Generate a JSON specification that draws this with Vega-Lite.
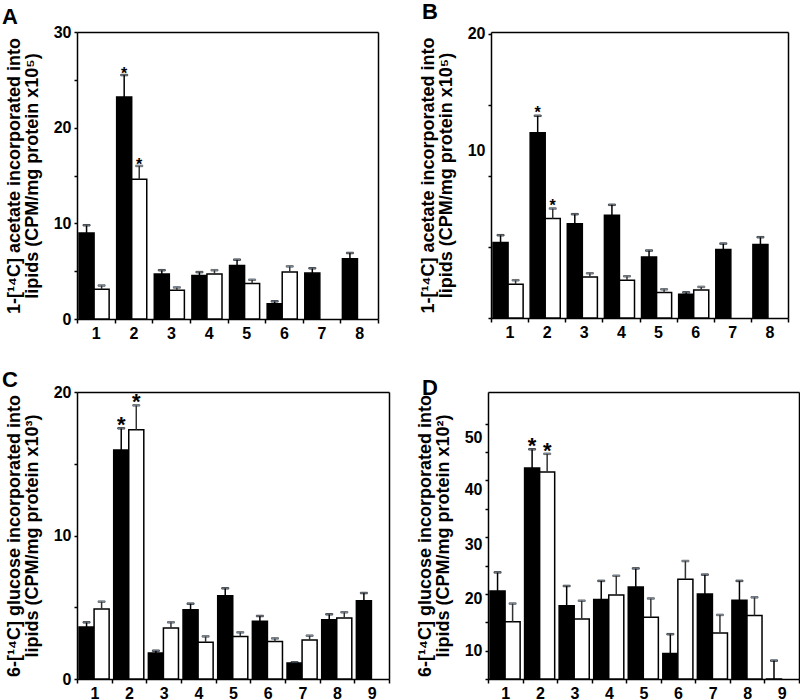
{
  "$schema": "https://vega.github.io/schema/vega-lite/v6.json",
  "padding": {"left": 2, "top": 0, "right": 0, "bottom": 0},
  "background": "white",
  "config": {
    "view": {"stroke": null},
    "font": "Liberation Sans",
    "axis": {
      "grid": false, "domainColor": "black", "domainWidth": 1.5, "tickColor": "black", "tickWidth": 1.5,
      "labelFont": "Liberation Sans", "labelFontWeight": "bold", "labelFontSize": 16, "labelColor": "black",
      "titleFont": "Liberation Sans", "titleFontWeight": "bold", "titleFontSize": 18, "titleColor": "black", "titleLineHeight": 18
    },
    "axisX": {"tickBand": "extent", "tickSize": 4, "labelAngle": 0, "labelPadding": 2, "title": null},
    "axisY": {"tickSize": 3, "labelPadding": 3, "titlePadding": 12, "labelOverlap": false},
    "title": {"anchor": "start", "frame": "group", "font": "Liberation Sans", "fontWeight": "bold", "fontSize": 22, "color": "black"}
  },
  "datasets": {
    "A": [
      {"group": "1", "series": "black", "value": 9.0, "err": 9.8, "star": ""},
      {"group": "1", "series": "white", "value": 3.1, "err": 3.5, "star": ""},
      {"group": "2", "series": "black", "value": 23.2, "err": 25.5, "star": "*"},
      {"group": "2", "series": "white", "value": 14.6, "err": 16.0, "star": "*"},
      {"group": "3", "series": "black", "value": 4.7, "err": 5.1, "star": ""},
      {"group": "3", "series": "white", "value": 3.0, "err": 3.3, "star": ""},
      {"group": "4", "series": "black", "value": 4.55, "err": 4.9, "star": ""},
      {"group": "4", "series": "white", "value": 4.7, "err": 5.1, "star": ""},
      {"group": "5", "series": "black", "value": 5.6, "err": 6.2, "star": ""},
      {"group": "5", "series": "white", "value": 3.7, "err": 4.1, "star": ""},
      {"group": "6", "series": "black", "value": 1.6, "err": 1.85, "star": ""},
      {"group": "6", "series": "white", "value": 4.9, "err": 5.5, "star": ""},
      {"group": "7", "series": "black", "value": 4.8, "err": 5.3, "star": ""},
      {"group": "8", "series": "black", "value": 6.3, "err": 6.9, "star": ""}
    ],
    "B": [
      {"group": "1", "series": "black", "value": 5.31, "err": 5.83, "star": ""},
      {"group": "1", "series": "white", "value": 2.37, "err": 2.66, "star": ""},
      {"group": "2", "series": "black", "value": 13.04, "err": 14.24, "star": "*"},
      {"group": "2", "series": "white", "value": 7.0, "err": 7.71, "star": "*"},
      {"group": "3", "series": "black", "value": 6.63, "err": 7.31, "star": ""},
      {"group": "3", "series": "white", "value": 2.89, "err": 3.15, "star": ""},
      {"group": "4", "series": "black", "value": 7.24, "err": 7.97, "star": ""},
      {"group": "4", "series": "white", "value": 2.66, "err": 2.94, "star": ""},
      {"group": "5", "series": "black", "value": 4.3, "err": 4.75, "star": ""},
      {"group": "5", "series": "white", "value": 1.79, "err": 2.02, "star": ""},
      {"group": "6", "series": "black", "value": 1.67, "err": 1.81, "star": ""},
      {"group": "6", "series": "white", "value": 1.97, "err": 2.19, "star": ""},
      {"group": "7", "series": "black", "value": 4.82, "err": 5.24, "star": ""},
      {"group": "8", "series": "black", "value": 5.17, "err": 5.69, "star": ""}
    ],
    "C": [
      {"group": "1", "series": "black", "value": 3.62, "err": 3.95, "star": ""},
      {"group": "1", "series": "white", "value": 4.88, "err": 5.39, "star": ""},
      {"group": "2", "series": "black", "value": 15.96, "err": 17.47, "star": "*"},
      {"group": "2", "series": "white", "value": 17.37, "err": 19.07, "star": "*"},
      {"group": "3", "series": "black", "value": 1.81, "err": 1.97, "star": ""},
      {"group": "3", "series": "white", "value": 3.55, "err": 3.95, "star": ""},
      {"group": "4", "series": "black", "value": 4.83, "err": 5.25, "star": ""},
      {"group": "4", "series": "white", "value": 2.56, "err": 2.97, "star": ""},
      {"group": "5", "series": "black", "value": 5.81, "err": 6.32, "star": ""},
      {"group": "5", "series": "white", "value": 2.97, "err": 3.25, "star": ""},
      {"group": "6", "series": "black", "value": 4.02, "err": 4.39, "star": ""},
      {"group": "6", "series": "white", "value": 2.62, "err": 2.83, "star": ""},
      {"group": "7", "series": "black", "value": 1.11, "err": 1.16, "star": ""},
      {"group": "7", "series": "white", "value": 2.72, "err": 3.02, "star": ""},
      {"group": "8", "series": "black", "value": 4.13, "err": 4.51, "star": ""},
      {"group": "8", "series": "white", "value": 4.25, "err": 4.65, "star": ""},
      {"group": "9", "series": "black", "value": 5.46, "err": 5.99, "star": ""}
    ],
    "D": [
      {"group": "1", "series": "black", "value": 20.5, "err": 23.8, "star": ""},
      {"group": "1", "series": "white", "value": 15.1, "err": 18.3, "star": ""},
      {"group": "2", "series": "black", "value": 42.2, "err": 45.5, "star": "*"},
      {"group": "2", "series": "white", "value": 41.5, "err": 44.7, "star": "*"},
      {"group": "3", "series": "black", "value": 17.9, "err": 21.4, "star": ""},
      {"group": "3", "series": "white", "value": 15.6, "err": 18.8, "star": ""},
      {"group": "4", "series": "black", "value": 19.0, "err": 22.3, "star": ""},
      {"group": "4", "series": "white", "value": 19.8, "err": 23.2, "star": ""},
      {"group": "5", "series": "black", "value": 21.2, "err": 24.5, "star": ""},
      {"group": "5", "series": "white", "value": 15.9, "err": 19.2, "star": ""},
      {"group": "6", "series": "black", "value": 9.5, "err": 12.9, "star": ""},
      {"group": "6", "series": "white", "value": 22.6, "err": 25.8, "star": ""},
      {"group": "7", "series": "black", "value": 20.0, "err": 23.4, "star": ""},
      {"group": "7", "series": "white", "value": 13.1, "err": 16.3, "star": ""},
      {"group": "8", "series": "black", "value": 18.9, "err": 22.3, "star": ""},
      {"group": "8", "series": "white", "value": 16.2, "err": 19.4, "star": ""},
      {"group": "9", "series": "black", "value": 4.5, "err": 8.24, "star": ""}
    ]
  },
  "spacing": 28,
  "vconcat": [
    {
      "bounds": "flush",
      "spacing": 113,
      "hconcat": [
        {
          "title": {"text": "A", "dx": -75, "offset": -5},
          "width": 301, "height": 287,
          "data": {"name": "A"},
          "resolve": {"axis": {"x": "independent", "y": "independent"}},
          "encoding": {
            "xOffset": {"field": "series", "type": "nominal", "scale": {"domain": ["black", "white"], "paddingInner": 0, "paddingOuter": 0.25, "align": 0.27}}
          },
          "layer": [
            {
              "mark": {"type": "bar", "stroke": "black", "strokeWidth": 1.5},
              "encoding": {
                "x": {"field": "group", "type": "nominal", "sort": null, "scale": {"paddingInner": 0, "paddingOuter": 0}, "axis": {"orient": "bottom"}},
                "y": {"field": "value", "type": "quantitative", "scale": {"domain": [0, 30], "nice": false},
                  "axis": {"values": [0, 5, 10, 15, 20, 25, 30], "labelExpr": "datum.value % 10 == 0 ? datum.label : ''",
                    "title": ["1-[¹⁴C] acetate incorporated into", "lipids (CPM/mg protein x10⁵)"]}},
                "fill": {"field": "series", "type": "nominal", "scale": {"domain": ["black", "white"], "range": ["black", "white"]}, "legend": null}
              }
            },
            {
              "mark": {"type": "rule", "strokeWidth": 1.5},
              "encoding": {
                "x": {"field": "group", "type": "nominal", "sort": null, "axis": null},
                "y": {"field": "value", "type": "quantitative", "axis": null}, "y2": {"field": "err"},
                "stroke": {"field": "series", "type": "nominal", "scale": {"domain": ["black", "white"], "range": ["black", "#333333"]}, "legend": null}
              }
            },
            {
              "mark": {"type": "tick", "size": 7, "thickness": 1.5},
              "encoding": {
                "x": {"field": "group", "type": "nominal", "sort": null, "axis": null},
                "y": {"field": "err", "type": "quantitative", "axis": null},
                "stroke": {"field": "series", "type": "nominal", "legend": null}
              }
            },
            {
              "transform": [{"filter": "datum.star == '*'"}],
              "mark": {"type": "text", "baseline": "alphabetic", "dy": 4, "fontSize": 16, "fontWeight": "bold", "font": "Liberation Sans", "color": "black"},
              "encoding": {
                "x": {"field": "group", "type": "nominal", "sort": null, "axis": null},
                "y": {"field": "err", "type": "quantitative", "axis": null}, "text": {"field": "star"}}
            },
            {
              "mark": {"type": "bar", "opacity": 0},
              "encoding": {
                "x": {"field": "group", "type": "nominal", "sort": null, "axis": {"orient": "top", "labels": false, "ticks": false, "title": null}},
                "y": {"field": "value", "type": "quantitative", "axis": {"orient": "right", "labels": false, "ticks": false, "title": null}}
              }
            }
          ]
        },
        {
          "title": {"text": "B", "dx": -69, "offset": 2},
          "width": 297, "height": 286,
          "data": {"name": "B"},
          "resolve": {"axis": {"x": "independent", "y": "independent"}},
          "encoding": {
            "xOffset": {"field": "series", "type": "nominal", "scale": {"domain": ["black", "white"], "paddingInner": 0, "paddingOuter": 0.17, "align": 0.5}}
          },
          "layer": [
            {
              "mark": {"type": "bar", "stroke": "black", "strokeWidth": 1.5},
              "encoding": {
                "x": {"field": "group", "type": "nominal", "sort": null, "scale": {"paddingInner": 0, "paddingOuter": 0}, "axis": {"orient": "bottom"}},
                "y": {"field": "value", "type": "quantitative", "scale": {"domain": [0, 20.14], "nice": false},
                  "axis": {"values": [0, 5, 10, 15, 20], "labelExpr": "datum.value == 10 || datum.value == 20 ? datum.label : ''",
                    "labelOffset": {"condition": {"test": "datum.value == 10", "value": -25}, "value": 0},
                    "title": ["1-[¹⁴C] acetate incorporated into", "lipids (CPM/mg protein x10⁵)"]}},
                "fill": {"field": "series", "type": "nominal", "scale": {"domain": ["black", "white"], "range": ["black", "white"]}, "legend": null}
              }
            },
            {
              "mark": {"type": "rule", "strokeWidth": 1.5},
              "encoding": {
                "x": {"field": "group", "type": "nominal", "sort": null, "axis": null},
                "y": {"field": "value", "type": "quantitative", "axis": null}, "y2": {"field": "err"},
                "stroke": {"field": "series", "type": "nominal", "scale": {"domain": ["black", "white"], "range": ["black", "#333333"]}, "legend": null}
              }
            },
            {
              "mark": {"type": "tick", "size": 7, "thickness": 1.5},
              "encoding": {
                "x": {"field": "group", "type": "nominal", "sort": null, "axis": null},
                "y": {"field": "err", "type": "quantitative", "axis": null},
                "stroke": {"field": "series", "type": "nominal", "legend": null}
              }
            },
            {
              "transform": [{"filter": "datum.star == '*'"}],
              "mark": {"type": "text", "baseline": "alphabetic", "dy": 2, "fontSize": 16, "fontWeight": "bold", "font": "Liberation Sans", "color": "black"},
              "encoding": {
                "x": {"field": "group", "type": "nominal", "sort": null, "axis": null},
                "y": {"field": "err", "type": "quantitative", "axis": null}, "text": {"field": "star"}}
            },
            {
              "mark": {"type": "bar", "opacity": 0},
              "encoding": {
                "x": {"field": "group", "type": "nominal", "sort": null, "axis": {"orient": "top", "labels": false, "ticks": false, "title": null}},
                "y": {"field": "value", "type": "quantitative", "axis": {"orient": "right", "labels": false, "ticks": false, "title": null}}
              }
            }
          ]
        }
      ]
    },
    {
      "bounds": "flush",
      "spacing": 99,
      "hconcat": [
        {
          "title": {"text": "C", "dx": -75, "offset": -8},
          "width": 312, "height": 287,
          "data": {"name": "C"},
          "resolve": {"axis": {"x": "independent", "y": "independent"}},
          "encoding": {
            "xOffset": {"field": "series", "type": "nominal", "scale": {"domain": ["black", "white"], "paddingInner": 0, "paddingOuter": 0.15, "align": 0.15}}
          },
          "layer": [
            {
              "mark": {"type": "bar", "stroke": "black", "strokeWidth": 1.5},
              "encoding": {
                "x": {"field": "group", "type": "nominal", "sort": null, "scale": {"paddingInner": 0, "paddingOuter": 0}, "axis": {"orient": "bottom"}},
                "y": {"field": "value", "type": "quantitative", "scale": {"domain": [0, 20], "nice": false},
                  "axis": {"values": [0, 5, 10, 15, 20], "labelExpr": "datum.value % 10 == 0 ? datum.label : ''",
                    "title": ["6-[¹⁴C] glucose incorporated into", "lipids (CPM/mg protein x10³)"]}},
                "fill": {"field": "series", "type": "nominal", "scale": {"domain": ["black", "white"], "range": ["black", "white"]}, "legend": null}
              }
            },
            {
              "mark": {"type": "rule", "strokeWidth": 1.5},
              "encoding": {
                "x": {"field": "group", "type": "nominal", "sort": null, "axis": null},
                "y": {"field": "value", "type": "quantitative", "axis": null}, "y2": {"field": "err"},
                "stroke": {"field": "series", "type": "nominal", "scale": {"domain": ["black", "white"], "range": ["black", "#333333"]}, "legend": null}
              }
            },
            {
              "mark": {"type": "tick", "size": 7, "thickness": 1.5},
              "encoding": {
                "x": {"field": "group", "type": "nominal", "sort": null, "axis": null},
                "y": {"field": "err", "type": "quantitative", "axis": null},
                "stroke": {"field": "series", "type": "nominal", "legend": null}
              }
            },
            {
              "transform": [{"filter": "datum.star == '*'"}],
              "mark": {"type": "text", "baseline": "alphabetic", "dy": 4, "fontSize": 22, "fontWeight": "bold", "font": "Liberation Sans", "color": "black"},
              "encoding": {
                "x": {"field": "group", "type": "nominal", "sort": null, "axis": null},
                "y": {"field": "err", "type": "quantitative", "axis": null}, "text": {"field": "star"}}
            },
            {
              "mark": {"type": "bar", "opacity": 0},
              "encoding": {
                "x": {"field": "group", "type": "nominal", "sort": null, "axis": {"orient": "top", "labels": false, "ticks": false, "title": null}},
                "y": {"field": "value", "type": "quantitative", "axis": {"orient": "right", "labels": false, "ticks": false, "title": null}}
              }
            }
          ]
        },
        {
          "title": {"text": "D", "dx": -66, "offset": -8},
          "width": 311, "height": 287,
          "data": {"name": "D"},
          "resolve": {"axis": {"x": "independent", "y": "independent"}},
          "encoding": {
            "xOffset": {"field": "series", "type": "nominal", "scale": {"domain": ["black", "white"], "paddingInner": 0, "paddingOuter": 0.15, "align": 0.43}}
          },
          "layer": [
            {
              "mark": {"type": "bar", "stroke": "black", "strokeWidth": 1.5, "clip": true},
              "encoding": {
                "x": {"field": "group", "type": "nominal", "sort": null, "scale": {"paddingInner": 0, "paddingOuter": 0}, "axis": {"orient": "bottom"}},
                "y": {"field": "value", "type": "quantitative", "scale": {"domain": [5, 55.6], "nice": false, "zero": false},
                  "axis": {"values": [5, 10, 15, 20, 25, 30, 35, 40, 45, 50], "labelExpr": "datum.value % 10 == 0 ? datum.label : ''",
                    "labelOffset": {"condition": [
                      {"test": "datum.value == 20", "value": 5},
                      {"test": "datum.value == 30", "value": 7},
                      {"test": "datum.value == 40", "value": 9},
                      {"test": "datum.value == 50", "value": 14}
                    ], "value": 0},
                    "title": ["6-[¹⁴C] glucose incorporated into", "lipids (CPM/mg protein x10²)"]}},
                "y2": {"datum": 5},
                "fill": {"field": "series", "type": "nominal", "scale": {"domain": ["black", "white"], "range": ["black", "white"]}, "legend": null}
              }
            },
            {
              "mark": {"type": "rule", "strokeWidth": 1.5, "clip": true},
              "encoding": {
                "x": {"field": "group", "type": "nominal", "sort": null, "axis": null},
                "y": {"field": "value", "type": "quantitative", "axis": null}, "y2": {"field": "err"},
                "stroke": {"field": "series", "type": "nominal", "scale": {"domain": ["black", "white"], "range": ["black", "#444444"]}, "legend": null}
              }
            },
            {
              "mark": {"type": "tick", "size": 7, "thickness": 1.5},
              "encoding": {
                "x": {"field": "group", "type": "nominal", "sort": null, "axis": null},
                "y": {"field": "err", "type": "quantitative", "axis": null},
                "stroke": {"field": "series", "type": "nominal", "legend": null}
              }
            },
            {
              "transform": [{"filter": "datum.star == '*'"}],
              "mark": {"type": "text", "baseline": "alphabetic", "dy": 4, "fontSize": 22, "fontWeight": "bold", "font": "Liberation Sans", "color": "black"},
              "encoding": {
                "x": {"field": "group", "type": "nominal", "sort": null, "axis": null},
                "y": {"field": "err", "type": "quantitative", "axis": null}, "text": {"field": "star"}}
            },
            {
              "mark": {"type": "bar", "opacity": 0, "clip": true},
              "encoding": {
                "x": {"field": "group", "type": "nominal", "sort": null, "axis": {"orient": "top", "labels": false, "ticks": false, "title": null}},
                "y": {"field": "value", "type": "quantitative", "axis": {"orient": "right", "labels": false, "ticks": false, "title": null}}
              }
            }
          ]
        }
      ]
    }
  ]
}
